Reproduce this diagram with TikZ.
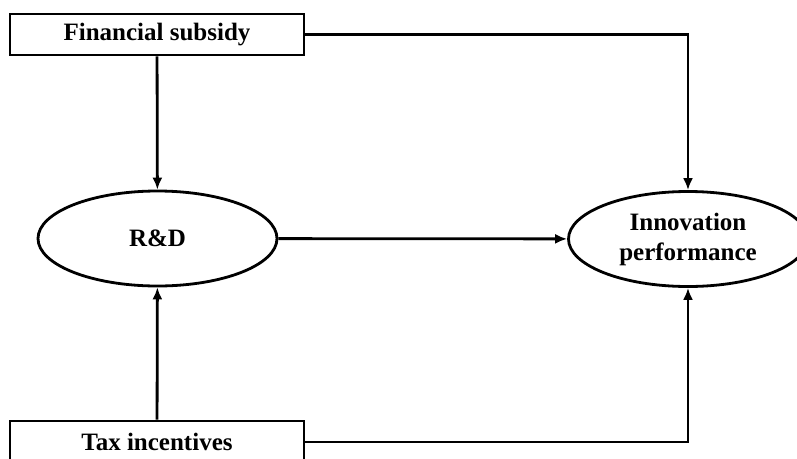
\documentclass[tikz,border=0pt]{standalone}
\usepackage{fontspec}
\setmainfont{Liberation Serif}
\usetikzlibrary{shapes.geometric,arrows.meta}

\begin{document}
\begin{tikzpicture}[x=1pt,y=-1pt,line width=2.8pt,
  factor/.style={draw,rectangle,minimum width=294pt,minimum height=41pt,inner sep=0pt,
    font=\bfseries\fontsize{25}{30}\selectfont},
  result/.style={draw,ellipse,minimum width=239pt,minimum height=95pt,inner sep=0pt,align=center,
    font=\bfseries\fontsize{25}{30}\selectfont},
  link/.style={-{Latex[length=12pt,width=10pt]}}]

\useasboundingbox (0,0) rectangle (797,458);
\clip (0,0) rectangle (797,458);

\node[factor] (fin) at (157,34.5) {Financial subsidy};
\node[factor] (tax) at (157,441.5) {Tax incentives};
\node[result] (rd) at (157.5,238.5) {R\&D};
\node[result] (inno) at (688,239) {Innovation\\performance};

\draw[link] (fin) -- (rd);%subsidy to R&D
\draw[link] (tax) -- (rd);
\draw[link] (rd) -- (inno);
\draw[link] (fin.east) -| (inno.north);
\draw[link] (tax.east |- 0,442) -| (inno.south);

\end{tikzpicture}
\end{document}
